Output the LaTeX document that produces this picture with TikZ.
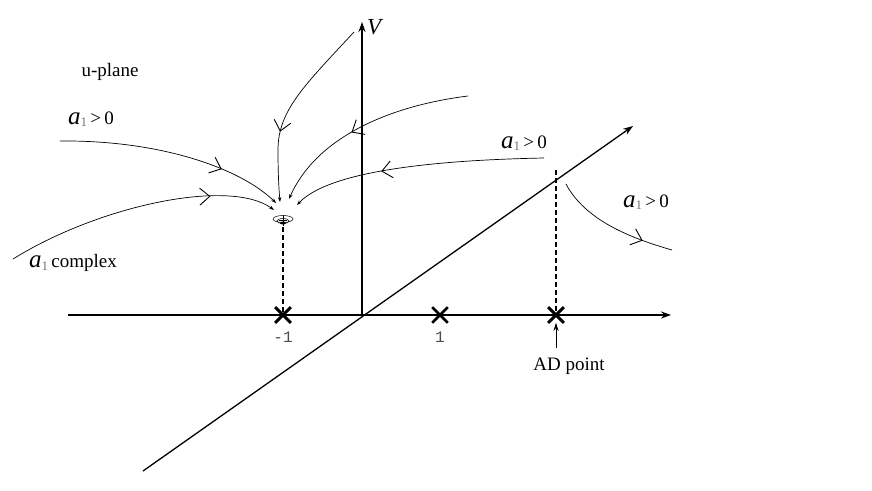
\documentclass[tikz,border=0pt]{standalone}
\usepackage{fontspec}
\setmainfont{Liberation Serif}
\setmonofont{Liberation Mono}
\usetikzlibrary{arrows.meta,decorations.markings,shapes.misc}
\newcommand{\aone}{{\fontsize{25}{25}\selectfont\itshape a}\raisebox{-0.3ex}{\textcolor{black!55}{\fontsize{13}{13}\selectfont 1}}}
\begin{document}
\begin{tikzpicture}[x=1pt,y=-1pt,
  axis/.style={line width=1.3pt,-{Stealth[length=10pt,width=7pt]}},
  flow/.style={line width=0.7pt},
  chev/.style={postaction={decorate},decoration={markings,mark=at position #1 with {\arrow{Straight Barb[length=10pt,width=17pt,line width=0.9pt]}}}},
  endtip/.style={-{Stealth[length=5pt,width=3.5pt]}},
  lbl/.style={font=\fontsize{19}{21}\selectfont, inner sep=0},
  tick/.style={font=\fontsize{16}{18}\selectfont\ttfamily, text=black!70, inner sep=0},
  xmark/.style={cross out, draw, line width=2.6pt, minimum size=13pt, inner sep=0},
  guide/.style={line width=1.3pt, dash pattern=on 5pt off 3pt}]
\useasboundingbox (0,0) rectangle (872,490);
% axes
\coordinate (O) at (362,315);
\coordinate (Xl) at (68,315);
\coordinate (Xr) at (671,315);
\coordinate (Vt) at (362,22);
\coordinate (Db) at (143,471);
\coordinate (Dt) at (633,126);
\draw[axis] (Xl) -- (Xr);
\draw[axis] (O) -- (Vt);
\draw[axis] (Db) -- (Dt);
\node[inner sep=0, font=\fontsize{23}{23}\selectfont\itshape, anchor=west] (V) at (367,27) {V};
% singularity icon
\coordinate (S) at (283,219);
\draw[line width=0.5pt] (S) ellipse (10pt and 3.5pt);
\draw[line width=0.5pt] (283,221) ellipse (6pt and 2.5pt);
\fill (283,223) ellipse (3pt and 1.5pt);
\draw[line width=0.6pt] (283,215) -- (283,226);
\draw[line width=0.5pt] (279,220.5) -- (287,220.5);
\coordinate (Sb) at (283,227);
\coordinate (Dtop) at (556,170);
% cross marks
\node[xmark] (m1) at (283,315) {};
\node[xmark] (p1) at (440,315) {};
\node[xmark] (mAD) at (556,315) {};
\draw[guide] (Sb) -- (m1.center);
\draw[guide] (Dtop) -- (mAD.center);
\node[xmark] at (283,315) {};
\node[xmark] at (556,315) {};
% labels
\node[tick] (tm1) at (283,337) {-1};
\node[tick] (t1) at (440,337) {1};
\node[lbl] (AD) at (569,366) {AD point};
\coordinate (ADa) at (556,348);
\draw[line width=0.8pt,-{Stealth[length=8pt,width=5pt]}] (ADa) -- (mAD.south);
\node[lbl] (up) at (110,72) {u-plane};
\node[lbl] (l1) at (91,119) {\aone\,>\,0};
\node[lbl] (l2) at (73,263) {\aone\,complex};
\node[lbl] (l3) at (524,143) {\aone\,>\,0};
\node[lbl] (l4) at (646,202) {\aone\,>\,0};
% flows
\coordinate (c1s) at (60,141);   \coordinate (c1e) at (276,203);
\coordinate (c2s) at (13,259);   \coordinate (c2e) at (274,210);
\coordinate (c3s) at (354,32);   \coordinate (c3e) at (280,202);
\coordinate (c4s) at (468,96);   \coordinate (c4e) at (289,199);
\coordinate (c5s) at (544,158);  \coordinate (c5e) at (297,205);
\coordinate (c6s) at (566,184);  \coordinate (c6e) at (672,250);
\draw[flow, chev=0.72, endtip] (c1s) .. controls (160,140) and (240,168) .. (c1e);
\draw[flow, chev=0.76, endtip] (c2s) .. controls (100,205) and (230,178) .. (c2e);
\draw[flow, chev=0.64, endtip] (c3s) .. controls (305,85) and (278,110) .. (278,150) .. controls (278,175) and (279,190) .. (c3e);
\draw[flow, chev=0.57, endtip] (c4s) .. controls (388,106) and (316,138) .. (c4e);
\draw[flow, chev=0.64, endtip] (c5s) .. controls (440,160) and (330,170) .. (c5e);
\draw[flow, chev=0.76] (c6s) .. controls (585,220) and (630,238) .. (c6e);
\end{tikzpicture}
\end{document}
